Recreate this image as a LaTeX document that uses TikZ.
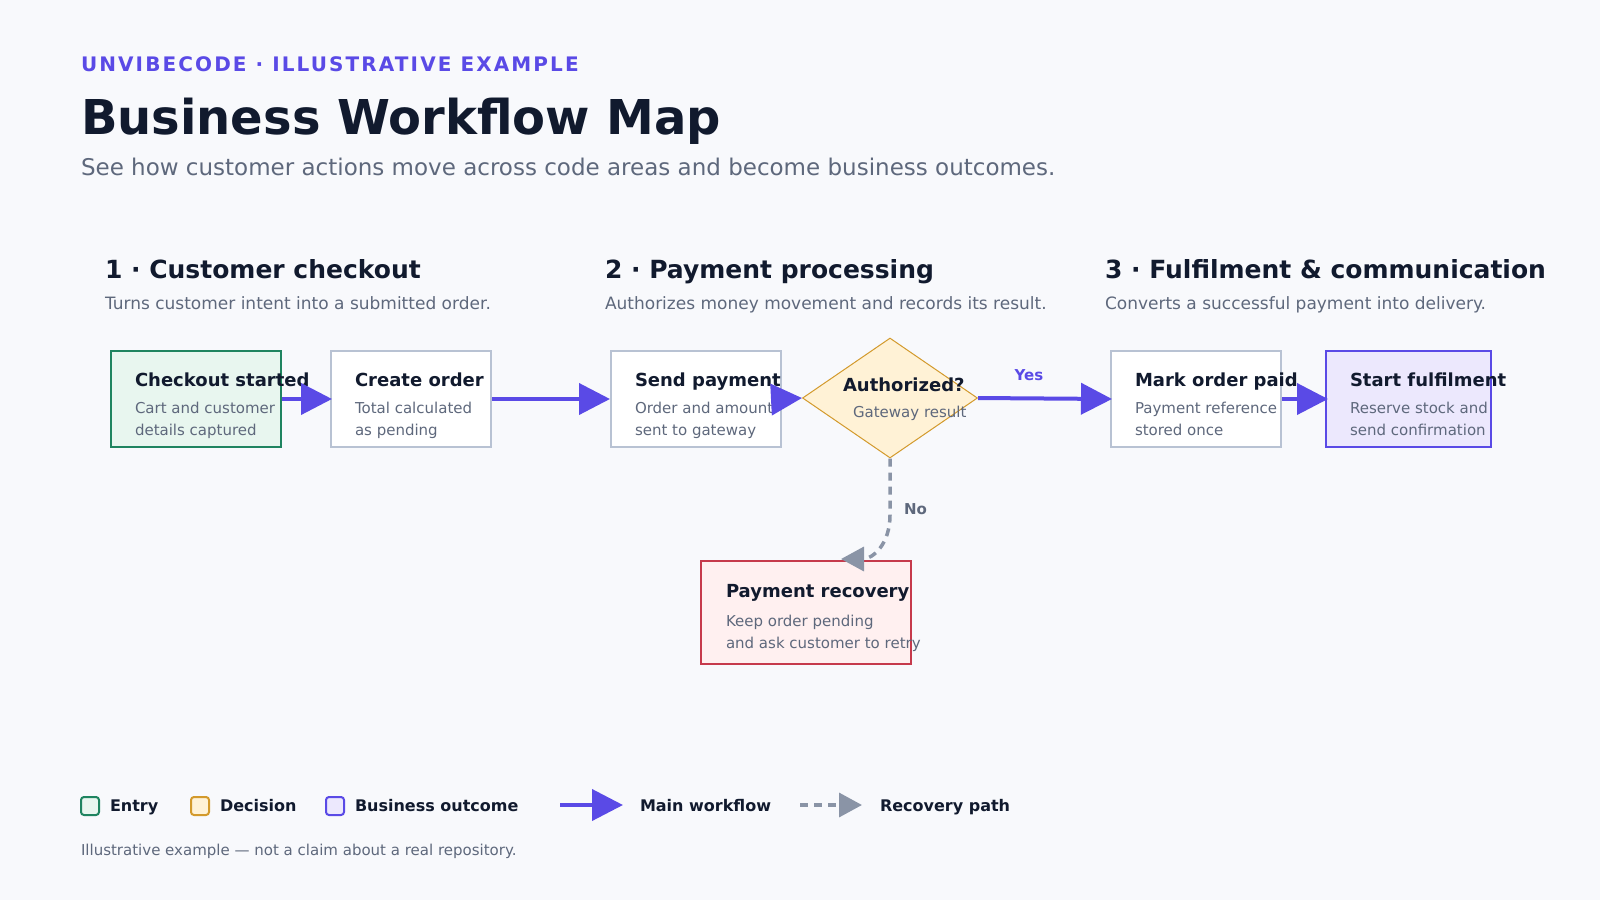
\documentclass[tikz,border=0pt]{standalone}
\usepackage{fontspec}
\setmainfont{DejaVu Sans}
\usetikzlibrary{arrows.meta,shapes.geometric}
\definecolor{bg}{HTML}{F8F9FC}
\definecolor{ink}{HTML}{111A2E}
\definecolor{muted}{HTML}{5E687C}
\definecolor{brand}{HTML}{5A4AE6}
\definecolor{neutralline}{HTML}{B8C2D3}
\definecolor{entryline}{HTML}{1F8460}
\definecolor{entryfill}{HTML}{E8F6EF}
\definecolor{decline}{HTML}{D39A2C}
\definecolor{decfill}{HTML}{FFF2D6}
\definecolor{outfill}{HTML}{ECE8FD}
\definecolor{recline}{HTML}{C63A4C}
\definecolor{recfill}{HTML}{FFF0F0}
\definecolor{dashgray}{HTML}{8A94A6}
\newcommand{\fs}[1]{\fontsize{#1}{#1}\selectfont}
\tikzset{
  txt/.style={anchor=base west, inner sep=0pt, outer sep=0pt},
  boxnode/.style={draw=neutralline, fill=white, line width=2pt, anchor=north west, inner sep=0pt, minimum height=96pt},
  btitle/.style={txt, text=ink, font=\fs{18}\bfseries},
  bsub/.style={txt, text=muted, font=\fs{15}},
  shead/.style={txt, text=ink, font=\fs{25}\bfseries},
  ssub/.style={txt, text=muted, font=\fs{17}},
  legtxt/.style={txt, text=ink, font=\fs{16}\bfseries},
  legsq/.style={line width=2pt, rounded corners=3pt, anchor=north west, minimum width=18pt, minimum height=18pt, inner sep=0pt},
  mainflow/.style={draw=brand, line width=4pt, -{Triangle[length=31pt,width=31pt]}},
  recflow/.style={draw=dashgray, line width=3.5pt, dash pattern=on 8pt off 6pt, -{Triangle[length=23pt,width=24pt]}},
}
\begin{document}
\begin{tikzpicture}[x=1pt,y=-1pt]
\fill[bg] (0,0) rectangle (1600,900);
\useasboundingbox (0,0) rectangle (1600,900);

% header
\node[txt, text=brand, font=\fs{20}\bfseries\addfontfeatures{LetterSpace=10.5}] (eyebrow) at (81,71.7) {UNVIBECODE · ILLUSTRATIVE EXAMPLE};
\node[txt, text=ink, font=\fs{48}\bfseries] (title) at (81,134) {Business Workflow Map};
\node[txt, text=muted, font=\fs{23}] (subtitle) at (81,175) {See how customer actions move across code areas and become business outcomes.};

% sections
\node[shead] (s1) at (105,278) {1 · Customer checkout};
\node[ssub] (s1d) at (105,309) {Turns customer intent into a submitted order.};
\node[shead] (s2) at (605,278) {2 · Payment processing};
\node[ssub] (s2d) at (605,309) {Authorizes money movement and records its result.};
\node[shead] (s3) at (1105,278) {3 · Fulfilment \& communication};
\node[ssub] (s3d) at (1105,309) {Converts a successful payment into delivery.};

% boxes
\node[boxnode, draw=entryline, fill=entryfill, minimum width=170pt] (checkout) at (110,350) {};
\node[boxnode, minimum width=160pt] (create) at (330,350) {};
\node[boxnode, minimum width=170pt] (send) at (610,350) {};
\node[draw=decline, fill=decfill, line width=1pt, diamond, inner sep=0pt, minimum width=175pt, minimum height=120pt] (auth) at (890,398) {};
\node[boxnode, minimum width=170pt] (mark) at (1110,350) {};
\node[boxnode, draw=brand, fill=outfill, minimum width=165pt] (start) at (1325,350) {};
\node[boxnode, draw=recline, fill=recfill, minimum width=210pt, minimum height=103pt] (recovery) at (700,560) {};

% box texts
\node[btitle] (t1) at (135,386) {Checkout started};
\node[bsub] (t1a) at (135,413) {Cart and customer};
\node[bsub] (t1b) at (135,435) {details captured};
\node[btitle] (t2) at (355,386) {Create order};
\node[bsub] (t2a) at (355,413) {Total calculated};
\node[bsub] (t2b) at (355,435) {as pending};
\node[btitle] (t3) at (635,386) {Send payment};
\node[bsub] (t3a) at (635,413) {Order and amount};
\node[bsub] (t3b) at (635,435) {sent to gateway};
\node[btitle] (t4) at (843,391) {Authorized?};
\node[bsub] (t4a) at (853,417) {Gateway result};
\node[btitle] (t5) at (1135,386) {Mark order paid};
\node[bsub] (t5a) at (1135,413) {Payment reference};
\node[bsub] (t5b) at (1135,435) {stored once};
\node[btitle] (t6) at (1350,386) {Start fulfilment};
\node[bsub] (t6a) at (1350,413) {Reserve stock and};
\node[bsub] (t6b) at (1350,435) {send confirmation};
\node[btitle] (t7) at (726,597) {Payment recovery};
\node[bsub] (t7a) at (726,626) {Keep order pending};
\node[bsub] (t7b) at (726,648) {and ask customer to retry};

% connectors
\draw[mainflow] (checkout.east) -- ([xshift=2pt]create.west);
\draw[mainflow] (create.east) -- (send.west);
\draw[mainflow] (send.east) -- (auth.west);
\draw[mainflow] (auth.east) -- ([xshift=2pt]mark.west);
\draw[mainflow] (mark.east) -- ([xshift=3pt]start.west);
\coordinate (bend) at (890,515);
\coordinate (rectip) at (841,559);
\draw[recflow] (auth.south) -- (bend) .. controls (890,545) and (872,559) .. (rectip);
\node[anchor=base, inner sep=0pt, text=brand, font=\fs{15}\bfseries] (yes) at (1029,380) {Yes};
\node[txt, text=muted, font=\fs{15}\bfseries] (no) at (904,514) {No};

% legend
\node[legsq, draw=entryline, fill=entryfill] (lg1) at (80,796) {};
\node[legtxt] (lg1t) at (110,811) {Entry};
\node[legsq, draw=decline, fill=decfill] (lg2) at (190,796) {};
\node[legtxt] (lg2t) at (220,811) {Decision};
\node[legsq, draw=brand, fill=outfill] (lg3) at (325,796) {};
\node[legtxt] (lg3t) at (355,811) {Business outcome};
\coordinate (lm1) at (560,805);
\coordinate (lm2) at (623,805);
\draw[mainflow] (lm1) -- (lm2);
\node[legtxt] (lg4t) at (640,811) {Main workflow};
\coordinate (lr1) at (800,805);
\coordinate (lr2) at (862,805);
\draw[recflow] (lr1) -- (lr2);
\node[legtxt] (lg5t) at (880,811) {Recovery path};

\node[txt, text=muted, font=\fs{15}] (foot) at (81,855) {Illustrative example — not a claim about a real repository.};
\end{tikzpicture}
\end{document}
